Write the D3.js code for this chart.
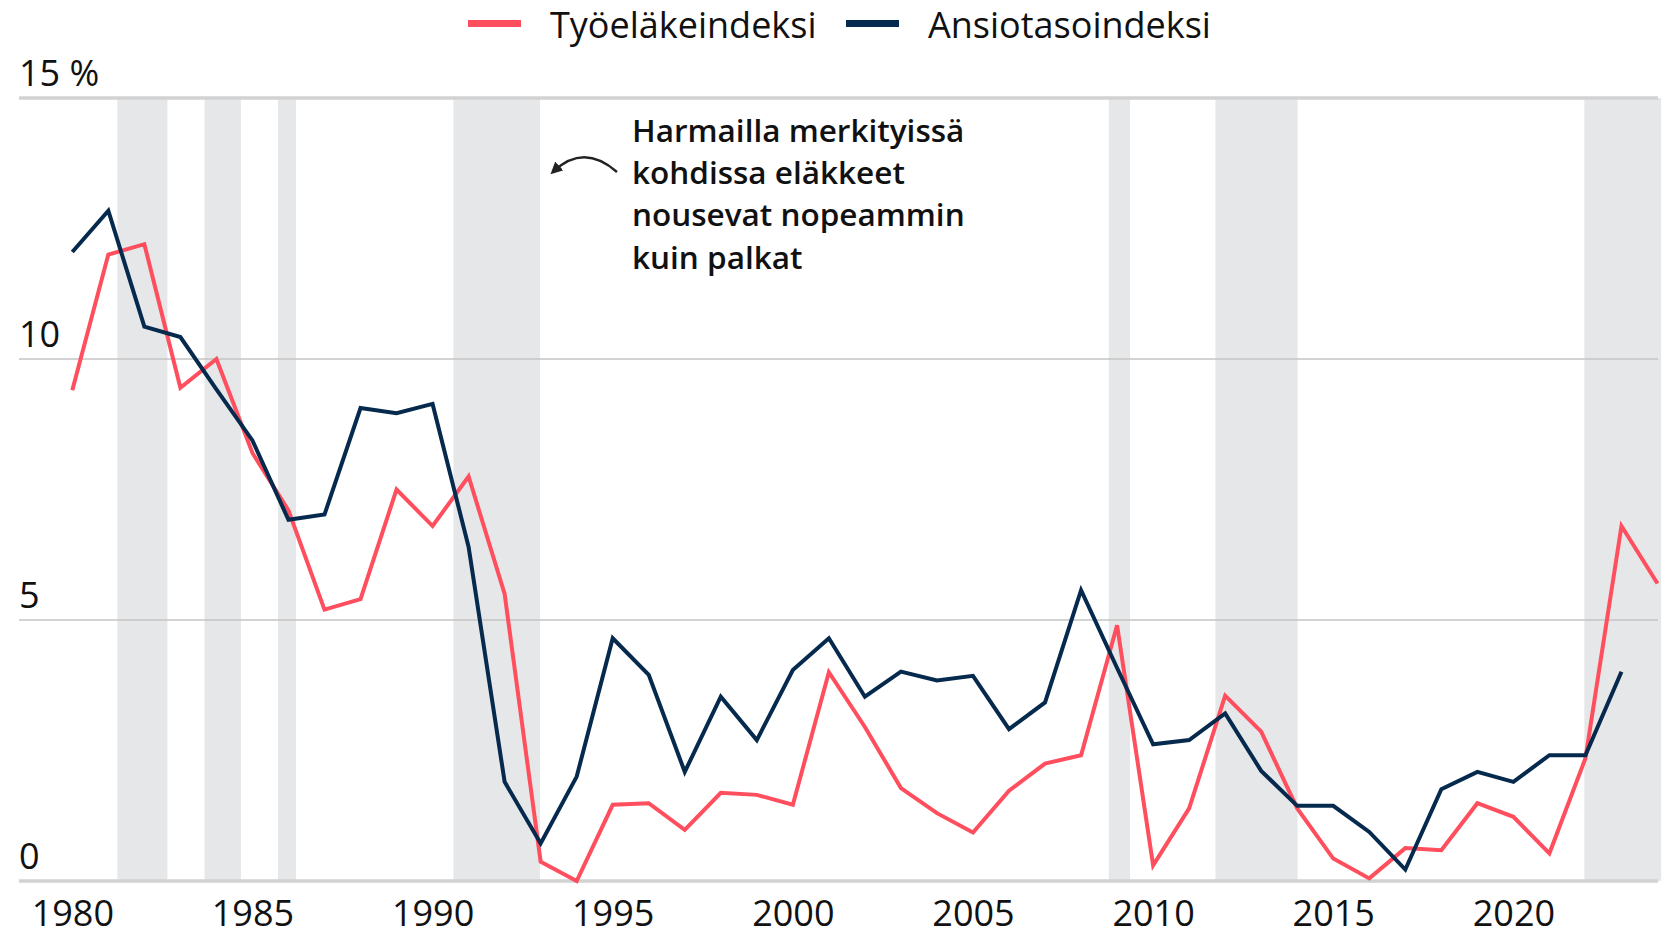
<!DOCTYPE html>
<html>
<head>
<meta charset="utf-8">
<script src="https://cdn.jsdelivr.net/npm/d3@7"></script>
<style>
  html, body { margin: 0; padding: 0; background: #fff; }
  svg { display: block; font-family: "Open Sans", Lato, sans-serif; font-weight: 500; }
</style>
</head>
<body>
<svg id="chart"></svg>
<script>
// Vuosimuutos (%)
const years = d3.range(1980, 2025)
const tyelIndex = [9.4, 12.0, 12.2, 9.45, 10.0, 8.2, 7.1, 5.2, 5.4, 7.5, 6.8, 7.75, 5.5, 0.37, 0.0,
  1.46, 1.49, 0.98, 1.69, 1.65, 1.46, 4.0, 2.95, 1.78, 1.3, 0.93, 1.73, 2.25, 2.41, 4.9,
  0.3, 1.39, 3.55, 2.86, 1.39, 0.43, 0.05, 0.63, 0.59, 1.49, 1.23, 0.53, 2.35, 6.8, 5.7]
const ansioIndex = [12.05, 12.84, 10.62, 10.42, 9.42, 8.44, 6.92, 7.02, 9.06, 8.96, 9.14, 6.4, 1.9, 0.72, 2.0,
  4.65, 3.95, 2.09, 3.53, 2.7, 4.04, 4.65, 3.53, 4.01, 3.84, 3.93, 2.91, 3.42, 5.57, 4.08,
  2.62, 2.7, 3.21, 2.11, 1.44, 1.44, 0.94, 0.22, 1.76, 2.09, 1.9, 2.41, 2.41, 4.01]

// jaksot joilla eläkkeet nousevat palkkoja nopeammin
const fasterPeriods = [[1981.25, 1982.64], [1983.67, 1984.68], [1985.71, 1986.21], [1990.58, 1992.98],
  [2008.77, 2009.36], [2011.73, 2014.01], [2021.97, 2024.1]]

const yTicks = [0, 5, 10, 15]
const xTicks = [1980, 1985, 1990, 1995, 2000, 2005, 2010, 2015, 2020]
const seriesNames = ['Työeläkeindeksi', 'Ansiotasoindeksi']
const seriesColors = ['#ff4f5e', '#062a4d']
const noteLines = ['Harmailla merkityissä', 'kohdissa eläkkeet', 'nousevat nopeammin', 'kuin palkat']

const width = 1668, height = 937
const gridLeft = 19, gridRight = 1658

const svg = d3.select('#chart').attr('width', width).attr('height', height)

const x = d3.scaleLinear().domain([1980, 2024]).range([72.3, 1657.5])
const y = d3.scaleLinear().domain([0, 15]).range([881, 98])

// harmaat jaksot
svg.append('g')
  .selectAll('rect')
  .data(fasterPeriods)
  .join('rect')
    .attr('x', d => x(d[0]))
    .attr('width', d => x(d[1]) - x(d[0]))
    .attr('y', y(15))
    .attr('height', y(0) - y(15))
    .attr('fill', '#e6e7e9')

// apuviivat
svg.append('g')
  .selectAll('line')
  .data(yTicks)
  .join('line')
    .attr('x1', gridLeft)
    .attr('x2', gridRight)
    .attr('y1', d => y(d))
    .attr('y2', d => y(d))
    .attr('stroke', d => (d === 0 || d === 15) ? '#d2d2d2' : '#c4c4c4')
    .attr('stroke-width', d => (d === 0 || d === 15) ? 3.5 : 1.5)

svg.append('g')
  .selectAll('text')
  .data(yTicks)
  .join('text')
    .attr('x', gridLeft)
    .attr('y', d => y(d) - 12)
    .attr('font-size', 36)
    .attr('fill', '#111')
    .text(d => d === 15 ? '15 %' : d)

// x-akseli
const xAxis = svg.append('g')
  .attr('transform', `translate(0,${y(0)})`)
  .call(d3.axisBottom(x).tickValues(xTicks).tickFormat(d3.format('d')).tickSize(0).tickPadding(0))
xAxis.select('.domain').remove()
xAxis.selectAll('text')
  .attr('font-family', '"Open Sans", Lato, sans-serif')
  .attr('font-weight', 500)
  .attr('font-size', 36)
  .attr('fill', '#111')
  .attr('dy', 0)
  .attr('y', 45)

// viivat
const line = d3.line()
  .x(d => x(d[0]))
  .y(d => y(d[1]))

const series = [
  years.map((yr, i) => [yr, tyelIndex[i]]),
  years.slice(0, ansioIndex.length).map((yr, i) => [yr, ansioIndex[i]])
]

svg.append('g')
  .selectAll('path')
  .data(series)
  .join('path')
    .attr('d', line)
    .attr('fill', 'none')
    .attr('stroke', (d, i) => seriesColors[i])
    .attr('stroke-width', 4)
    .attr('stroke-linejoin', 'miter')

// selite
const legendX = [468, 846]
const legend = svg.append('g')
  .selectAll('g')
  .data(seriesNames)
  .join('g')
    .attr('transform', (d, i) => `translate(${legendX[i]},0)`)
legend.append('rect')
  .attr('y', 20)
  .attr('width', 53)
  .attr('height', 7)
  .attr('fill', (d, i) => seriesColors[i])
legend.append('text')
  .attr('x', 82)
  .attr('y', 38)
  .attr('font-size', 36)
  .attr('fill', '#111')
  .text(d => d)

// huomautus
const noteX = 632
svg.append('g')
  .selectAll('text')
  .data(noteLines)
  .join('text')
    .attr('x', noteX)
    .attr('y', (d, i) => 142 + i * 42.2)
    .attr('font-size', 31.5)
    .attr('font-weight', 600)
    .attr('fill', '#111')
    .text(d => d)

svg.append('defs').append('marker')
    .attr('id', 'head')
    .attr('viewBox', '0 0 10 10')
    .attr('refX', 6)
    .attr('refY', 5)
    .attr('markerWidth', 5)
    .attr('markerHeight', 5)
    .attr('orient', 'auto')
  .append('path')
    .attr('d', 'M0,0 L10,5 L0,10 Z')
    .attr('fill', '#222')

svg.append('path')
  .attr('d', `M${noteX - 15},172 Q${noteX - 48},143 ${noteX - 78},171`)
  .attr('fill', 'none')
  .attr('stroke', '#222')
  .attr('stroke-width', 2.4)
  .attr('marker-end', 'url(#head)')
</script>
</body>
</html>
